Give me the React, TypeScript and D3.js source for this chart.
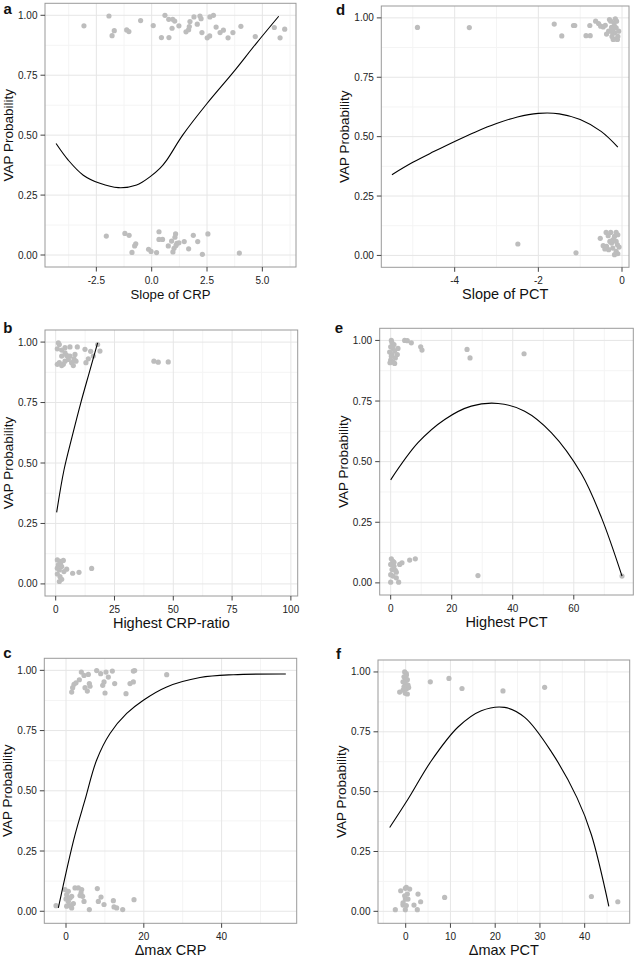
import React from "react";
import * as d3 from "d3";

type P = [number, number];

const yTicks = [0, 0.25, 0.5, 0.75, 1];
const yTickLabels = ["0.00", "0.25", "0.50", "0.75", "1.00"];

// ---------- panel a : Slope of CRP ----------
const aXTicks = [-2.5, 0, 2.5, 5];
const aXTickLabels = ["-2.5", "0.0", "2.5", "5.0"];
const aPoints: P[] = [
  [-3.06, 0.956], [-1.93, 0.997], [-1.79, 0.915], [-1.69, 0.936], [-1.13, 0.939], [-1.03, 0.932],
  [-0.5, 0.978], [0.07, 0.957], [0.44, 0.907], [0.6, 1.0], [0.77, 0.983], [0.78, 0.907],
  [0.92, 0.946], [0.95, 0.983], [1.04, 0.976], [1.23, 0.956], [1.55, 0.931], [1.67, 0.94],
  [1.7, 0.953], [1.73, 0.974], [1.91, 0.993], [2.06, 0.963], [2.18, 0.997], [2.23, 0.986],
  [2.27, 0.928], [2.51, 0.906], [2.62, 0.914], [2.63, 0.993], [2.79, 1.0], [2.91, 0.951],
  [3.09, 0.928], [3.24, 0.938], [3.45, 0.906], [3.67, 0.928], [4.03, 0.954], [4.68, 0.911],
  [5.54, 0.949], [5.8, 0.906], [6.01, 0.942],
  [-2.05, 0.079], [-1.21, 0.09], [-1.02, 0.082], [-0.89, 0.011], [-0.77, 0.038], [-0.72, 0.047],
  [-0.14, 0.024], [-0.03, 0.015], [0.22, 0.01], [0.33, 0.097], [0.33, 0.065], [0.49, 0.065],
  [0.75, 0.038], [0.9, 0.058], [0.96, 0.013], [1.01, 0.028], [1.05, 0.074], [1.08, 0.088],
  [1.1, 0.04], [1.14, 0.049], [1.23, 0.051], [1.47, 0.056], [1.67, 0.026], [1.88, 0.082],
  [2.08, 0.056], [2.29, 0.003], [2.54, 0.088], [3.96, 0.008],
];
const aCurve: P[] = [
  [-4.32, 0.465], [-3.77, 0.396], [-3.09, 0.333], [-2.34, 0.299], [-1.51, 0.281], [-0.68, 0.292],
  [-0.08, 0.326], [0.37, 0.361], [0.68, 0.396], [1.4, 0.5], [2.5, 0.632], [3.7, 0.764],
  [4.7, 0.88], [5.74, 0.996],
];

// ---------- panel b : Highest CRP-ratio ----------
const bXTicks = [0, 25, 50, 75, 100];
const bXTickLabels = ["0", "25", "50", "75", "100"];
const bPoints: P[] = [
  [1.12, 0.997], [1.54, 0.99], [0.69, 0.972], [2.54, 0.967], [3.95, 0.977], [6.07, 0.98],
  [9.19, 0.98], [12.45, 0.97], [14.86, 0.962], [17.83, 0.99], [18.82, 0.963], [2.54, 0.942],
  [4.66, 0.945], [6.07, 0.942], [1.54, 0.915], [3.95, 0.921], [5.37, 0.928], [6.78, 0.915],
  [7.77, 0.931], [8.62, 0.921], [3.24, 0.908], [0.69, 0.908], [2.54, 0.903], [7.49, 0.903],
  [12.87, 0.915], [13.87, 0.931], [15.99, 0.942], [41.76, 0.921], [43.6, 0.917], [47.85, 0.918],
  [3.95, 0.956], [8.2, 0.949],
  [0.69, 0.099], [1.83, 0.093], [3.24, 0.097], [1.12, 0.079], [2.54, 0.072], [1.54, 0.058],
  [0.69, 0.041], [1.83, 0.03], [2.54, 0.019], [1.54, 0.01], [4.66, 0.061], [7.2, 0.044],
  [9.9, 0.048], [15.28, 0.064], [2.1, 0.083], [3.5, 0.051], [0.69, 0.065],
];
const bCurve: P[] = [
  [0.41, 0.296], [3.5, 0.47], [7.0, 0.61], [10.7, 0.75], [14.3, 0.875], [17.83, 0.997],
];

// ---------- panel c : Δmax CRP ----------
const cXTicks = [0, 20, 40];
const cXTickLabels = ["0", "20", "40"];
const cPoints: P[] = [
  [1.46, 0.91], [1.71, 0.928], [2.06, 0.942], [2.57, 0.948], [3.43, 0.961], [3.94, 0.993],
  [4.63, 0.979], [5.74, 0.983], [4.88, 0.928], [5.48, 0.914], [6.0, 0.945], [6.17, 0.934],
  [7.88, 0.999], [8.91, 0.986], [9.43, 0.938], [9.77, 0.952], [10.03, 0.906], [10.28, 0.993],
  [10.88, 0.972], [11.91, 0.997], [12.51, 0.945], [15.42, 0.903], [16.45, 0.945], [17.31, 0.952],
  [17.31, 0.997], [17.65, 0.999], [25.88, 0.982],
  [-2.57, 0.023], [-0.26, 0.09], [0.17, 0.069], [0.6, 0.083], [0.0, 0.051], [0.6, 0.041],
  [1.03, 0.023], [1.46, 0.014], [1.03, 0.055], [1.89, 0.032], [2.31, 0.097], [3.17, 0.097],
  [4.03, 0.09], [3.6, 0.065], [4.28, 0.062], [4.63, 0.041], [6.0, 0.007], [8.05, 0.094],
  [8.31, 0.041], [9.0, 0.059], [9.77, 0.028], [12.17, 0.044], [12.34, 0.018], [13.02, 0.014],
  [14.57, 0.007], [17.48, 0.048], [0.17, 0.021], [1.46, 0.062], [3.86, 0.076],
];
const cCurve: P[] = [
  [-1.97, 0.014], [0.17, 0.172], [2.31, 0.317], [4.88, 0.462], [7.88, 0.628], [11.31, 0.738],
  [15.6, 0.821], [19.88, 0.876], [25.88, 0.931], [34.45, 0.97], [43.0, 0.982], [56.5, 0.985],
];

// ---------- panel d : Slope of PCT ----------
const dXTicks = [-4, -2, 0];
const dXTickLabels = ["-4", "-2", "0"];
const dPoints: P[] = [
  [-4.89, 0.96], [-3.65, 0.959], [-1.62, 0.974], [-1.44, 0.924], [-1.16, 0.968], [-1.13, 0.968],
  [-0.86, 0.925], [-0.76, 0.925], [-0.77, 0.968], [-0.63, 0.986], [-0.56, 0.976], [-0.51, 0.965],
  [-0.45, 0.962], [-0.4, 0.969], [-0.37, 0.932], [-0.32, 0.944], [-0.3, 0.993], [-0.27, 0.986],
  [-0.25, 0.96], [-0.24, 0.922], [-0.22, 0.951], [-0.19, 0.979], [-0.18, 0.937], [-0.16, 0.996],
  [-0.15, 0.911], [-0.14, 0.958], [-0.11, 0.909], [-0.1, 0.922], [-0.08, 0.944], [-0.21, 0.909],
  [-0.22, 0.937], [-0.18, 0.965], [-0.13, 0.986], [-0.25, 0.944],
  [-2.49, 0.048], [-1.1, 0.011], [-0.38, 0.097], [-0.27, 0.097], [-0.14, 0.097], [-0.52, 0.072],
  [-0.33, 0.083], [-0.18, 0.08], [-0.45, 0.041], [-0.37, 0.038], [-0.25, 0.052], [-0.14, 0.059],
  [-0.41, 0.027], [-0.32, 0.024], [-0.22, 0.031], [-0.14, 0.017], [-0.18, 0.003], [-0.1, 0.007],
  [-0.11, 0.045], [-0.22, 0.066], [-0.29, 0.059], [-0.1, 0.087], [-0.07, 0.035],
];
const dCurve: P[] = [
  [-5.5, 0.34], [-5.0, 0.392], [-4.5, 0.437], [-4.0, 0.48], [-3.5, 0.52], [-3.0, 0.555],
  [-2.5, 0.583], [-2.0, 0.598], [-1.5, 0.596], [-1.0, 0.572], [-0.5, 0.522], [-0.1, 0.456],
];

// ---------- panel e : Highest PCT ----------
const eXTicks = [0, 20, 40, 60];
const eXTickLabels = ["0", "20", "40", "60"];
const ePoints: P[] = [
  [0.21, 1.0], [0.43, 0.99], [0.0, 0.974], [0.75, 0.966], [-0.34, 0.952], [1.3, 0.956],
  [0.43, 0.942], [2.17, 0.942], [0.0, 0.919], [0.75, 0.911], [1.3, 0.905], [2.39, 0.967],
  [4.58, 1.0], [5.45, 0.999], [6.76, 0.99], [9.83, 0.974], [10.26, 0.96], [25.02, 0.963],
  [26.0, 0.928], [43.7, 0.945], [0.21, 0.935], [1.08, 0.983], [1.52, 0.928], [-0.23, 0.908],
  [0.21, 0.099], [0.75, 0.089], [0.0, 0.076], [1.08, 0.069], [0.43, 0.055], [1.52, 0.052],
  [0.0, 0.034], [0.75, 0.028], [1.84, 0.021], [0.0, 0.003], [2.61, 0.003], [2.94, 0.076],
  [3.7, 0.083], [6.22, 0.094], [8.07, 0.099], [28.6, 0.03], [75.8, 0.028], [1.84, 0.044],
  [1.08, 0.085],
];
const eCurve: P[] = [
  [0.0, 0.425], [8.95, 0.578], [17.7, 0.674], [26.4, 0.729], [35.2, 0.74], [43.9, 0.708],
  [52.7, 0.619], [62.5, 0.45], [69.1, 0.268], [75.8, 0.028],
];

// ---------- panel f : Δmax PCT ----------
const fXTicks = [0, 10, 20, 30, 40];
const fXTickLabels = ["0", "10", "20", "30", "40"];
const fPoints: P[] = [
  [-1.35, 0.916], [-0.6, 0.924], [-0.08, 0.911], [0.37, 0.908], [-0.23, 1.0], [0.14, 0.993],
  [-0.38, 0.98], [-0.08, 0.966], [0.37, 0.968], [-0.6, 0.959], [-0.08, 0.952], [0.51, 0.945],
  [-0.38, 0.938], [0.22, 0.931], [0.66, 0.935], [5.5, 0.959], [9.67, 0.973], [12.58, 0.931],
  [21.74, 0.921], [31.05, 0.936], [0.14, 0.986],
  [-2.32, 0.007], [-1.12, 0.086], [-0.6, 0.026], [-0.08, 0.096], [0.14, 0.1], [0.89, 0.093],
  [0.37, 0.072], [-0.08, 0.051], [-0.6, 0.035], [0.14, 0.024], [-0.08, 0.007], [1.85, 0.026],
  [2.75, 0.072], [2.6, 0.007], [3.34, 0.04], [8.7, 0.058], [41.5, 0.062], [47.4, 0.04],
  [0.51, 0.051], [-0.23, 0.065],
];
const fCurve: P[] = [
  [-3.58, 0.35], [0.5, 0.468], [5.7, 0.628], [11.7, 0.77], [16.9, 0.838], [22.1, 0.852],
  [26.6, 0.81], [32.6, 0.665], [38.3, 0.474], [41.5, 0.32], [45.4, 0.021],
];

// ---------- layout (pixels) ----------
const FONT = "'Liberation Sans', Arial, Helvetica, sans-serif";
const W = 637;
const H = 959;

interface PanelDef {
  letter: string;
  xTitle: string;
  xDomain: [number, number];
  xTicks: number[];
  xLabels: string[];
  points: P[];
  curve: P[];
  box: { l: number; r: number; t: number; b: number };
  letterPos: [number, number];
  titleSize: number;
}

const panels: PanelDef[] = [
  { letter: "a", xTitle: "Slope of CRP", xDomain: [-4.82, 6.52], xTicks: aXTicks, xLabels: aXTickLabels,
    points: aPoints, curve: aCurve, box: { l: 45, r: 296, t: 3.3, b: 267 }, letterPos: [3.5, 13.5], titleSize: 13.2 },
  { letter: "b", xTitle: "Highest CRP-ratio", xDomain: [-4.55, 102.9], xTicks: bXTicks, xLabels: bXTickLabels,
    points: bPoints, curve: bCurve, box: { l: 45, r: 297.7, t: 330, b: 596 }, letterPos: [3.3, 333], titleSize: 14.5 },
  { letter: "c", xTitle: "\u0394max CRP", xDomain: [-5.58, 59.3], xTicks: cXTicks, xLabels: cXTickLabels,
    points: cPoints, curve: cCurve, box: { l: 44.3, r: 296.7, t: 658.3, b: 923.3 }, letterPos: [3.3, 658], titleSize: 14.5 },
  { letter: "d", xTitle: "Slope of PCT", xDomain: [-5.754, 0.167], xTicks: dXTicks, xLabels: dXTickLabels,
    points: dPoints, curve: dCurve, box: { l: 381.3, r: 629, t: 6, b: 267.3 }, letterPos: [336, 15], titleSize: 14.5 },
  { letter: "e", xTitle: "Highest PCT", xDomain: [-3.6, 79.5], xTicks: eXTicks, xLabels: eXTickLabels,
    points: ePoints, curve: eCurve, box: { l: 379.7, r: 633.3, t: 328.3, b: 595 }, letterPos: [334.7, 333], titleSize: 14.5 },
  { letter: "f", xTitle: "\u0394max PCT", xDomain: [-6.19, 50.06], xTicks: fXTicks, xLabels: fXTickLabels,
    points: fPoints, curve: fCurve, box: { l: 378, r: 629.7, t: 660, b: 923.3 }, letterPos: [336, 658.5], titleSize: 14.5 },
];

function minorOf(ticks: number[], domain: [number, number]): number[] {
  if (ticks.length < 2) return [];
  const step = ticks[1] - ticks[0];
  const out: number[] = [];
  for (let v = ticks[0] - step / 2; v <= ticks[ticks.length - 1] + step / 2 + 1e-9; v += step) {
    if (v >= domain[0] && v <= domain[1]) out.push(v);
  }
  return out;
}

function Panel({ p }: { p: PanelDef }) {
  const { l, r, t, b } = p.box;
  const x = d3.scaleLinear().domain(p.xDomain).range([l, r]);
  const y = d3.scaleLinear().domain([-0.05, 1.05]).range([b, t]);
  const line = d3
    .line<P>()
    .x((d) => x(d[0]))
    .y((d) => y(d[1]))
    .curve(d3.curveCatmullRom.alpha(0.5));
  const xMinor = minorOf(p.xTicks, p.xDomain);
  const yMinor = minorOf(yTicks, [-0.05, 1.05]);
  const tickCol = "#444";
  return (
    <g>
      <rect x={l} y={t} width={r - l} height={b - t} fill="#fff" />
      {xMinor.map((v, i) => (
        <line key={"xm" + i} x1={x(v)} x2={x(v)} y1={t} y2={b} stroke="#f4f4f4" strokeWidth={1} />
      ))}
      {yMinor.map((v, i) => (
        <line key={"ym" + i} x1={l} x2={r} y1={y(v)} y2={y(v)} stroke="#f4f4f4" strokeWidth={1} />
      ))}
      {p.xTicks.map((v, i) => (
        <line key={"xg" + i} x1={x(v)} x2={x(v)} y1={t} y2={b} stroke="#e6e6e6" strokeWidth={1} />
      ))}
      {yTicks.map((v, i) => (
        <line key={"yg" + i} x1={l} x2={r} y1={y(v)} y2={y(v)} stroke="#e6e6e6" strokeWidth={1} />
      ))}
      {p.points.map((d, i) => (
        <circle key={"pt" + i} cx={x(d[0])} cy={y(d[1])} r={2.6} fill="#bdbdbd" />
      ))}
      <path d={line(p.curve) || ""} fill="none" stroke="#000" strokeWidth={1.1} />
      <rect x={l} y={t} width={r - l} height={b - t} fill="none" stroke="#9a9a9a" strokeWidth={1} />
      {yTicks.map((v, i) => (
        <g key={"yt" + i}>
          <line x1={l - 4.5} x2={l} y1={y(v)} y2={y(v)} stroke={tickCol} strokeWidth={1} />
          <text x={l - 7.5} y={y(v)} dy="0.35em" textAnchor="end" fontSize={10} fill="#222" fontFamily={FONT}>
            {yTickLabels[i]}
          </text>
        </g>
      ))}
      {p.xTicks.map((v, i) => (
        <g key={"xt" + i}>
          <line x1={x(v)} x2={x(v)} y1={b} y2={b + 4.5} stroke={tickCol} strokeWidth={1} />
          <text x={x(v)} y={b + 16.5} textAnchor="middle" fontSize={10} fill="#222" fontFamily={FONT}>
            {p.xLabels[i]}
          </text>
        </g>
      ))}
      <text x={(l + r) / 2} y={b + 31.5} textAnchor="middle" fontSize={p.titleSize} fill="#111" fontFamily={FONT}>
        {p.xTitle}
      </text>
      <text
        transform={`translate(${l - 32},${(t + b) / 2}) rotate(-90)`}
        textAnchor="middle"
        fontSize={13.5}
        fill="#111"
        fontFamily={FONT}
      >
        VAP Probability
      </text>
      <text x={p.letterPos[0]} y={p.letterPos[1]} fontSize={15} fontWeight="bold" fill="#111" fontFamily={FONT}>
        {p.letter}
      </text>
    </g>
  );
}

export default function App() {
  return (
    <svg
      width={W}
      height={H}
      viewBox={`0 0 ${W} ${H}`}
      style={{ position: "absolute", left: 0, top: 0, background: "#fff" }}
    >
      <rect x={0} y={0} width={W} height={H} fill="#fff" />
      {panels.map((p) => (
        <Panel key={p.letter} p={p} />
      ))}
    </svg>
  );
}
